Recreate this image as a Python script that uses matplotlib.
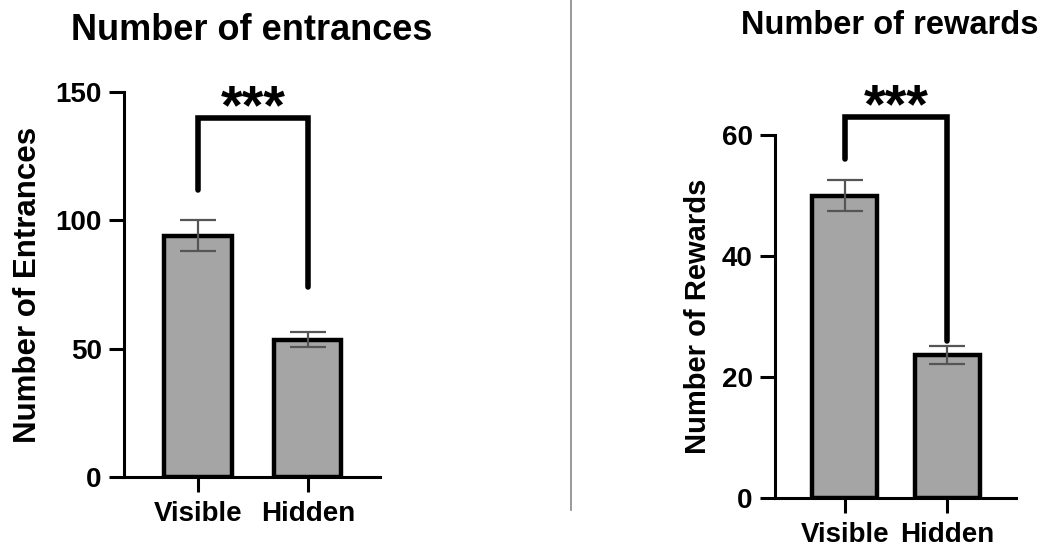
import matplotlib.pyplot as plt
from matplotlib.lines import Line2D

plt.rcParams['font.family'] = ['Liberation Sans', 'DejaVu Sans']
plt.rcParams['font.weight'] = 'bold'

groups = ["Visible", "Hidden"]

entr_mean = [94, 53.5]
entr_err = [6, 3]
rew_mean = [50, 23.6]
rew_err = [2.5, 1.5]

# bracket: [left leg bottom, top, right leg bottom]
entr_bracket = [112, 140, 74]
rew_bracket = [56, 63, 26]


def panel(ax, means, errs, ymax, yticks, ylabel, bracket, xlim, width, label_x, label_size):
    x = list(range(len(groups)))
    ax.bar(x, means, width=width, color="#a5a5a5", edgecolor="black", linewidth=3.2, zorder=2)
    ax.errorbar(x, means, yerr=errs, fmt="none", ecolor="#555555",
                elinewidth=1.6, capsize=13, capthick=1.6, zorder=3)
    ax.set_xlim(*xlim)
    ax.set_ylim(0, ymax)
    ax.set_yticks(yticks)
    ax.set_xticks(x)
    ax.set_xticklabels(groups, fontsize=20, fontweight="bold")
    for lab in ax.get_yticklabels():
        lab.set_fontsize(20)
        lab.set_fontweight("bold")
    ax.spines["top"].set_visible(False)
    ax.spines["right"].set_visible(False)
    ax.spines["left"].set_linewidth(2.2)
    ax.spines["bottom"].set_linewidth(2.2)
    ax.tick_params(axis="both", length=11, width=2.2)
    ax.tick_params(axis="y", pad=5)
    ax.tick_params(axis="x", pad=6)
    ax.set_ylabel(ylabel, fontsize=label_size, fontweight="bold")
    ax.yaxis.set_label_coords(label_x, 0.5)
    # significance bracket
    ax.plot([x[0], x[0], x[1], x[1]], [bracket[0], bracket[1], bracket[1], bracket[2]],
            color="black", linewidth=4, solid_capstyle="round",
            solid_joinstyle="miter", clip_on=False, zorder=4)
    ax.annotate("***", xy=((x[0] + x[1]) / 2, bracket[1]), xytext=(0, -4),
                textcoords="offset points", ha="center", va="baseline",
                fontsize=40, fontweight="bold", annotation_clip=False)


fig = plt.figure(figsize=(10.56, 5.48), dpi=100)

ax1 = fig.add_axes([0.1174, 0.1296, 0.2424, 0.7025])
panel(ax1, entr_mean, entr_err, 150, [0, 50, 100, 150], "Number of Entrances",
      entr_bracket, (-0.673, 1.655), 0.61, -0.316, 22.5)

ax2 = fig.add_axes([0.7339, 0.0912, 0.2282, 0.6624])
panel(ax2, rew_mean, rew_err, 60, [0, 20, 40, 60], "Number of Rewards",
      rew_bracket, (-0.68, 1.67), 0.63, -0.261, 21)

fig.text(252 / 1056, 1 - 30 / 548, "Number of entrances", ha="center", va="center",
         fontsize=26, fontweight="bold")
fig.text(890 / 1056, 1 - 25 / 548, "Number of rewards", ha="center", va="center",
         fontsize=23.5, fontweight="bold")

# divider between panels
fig.add_artist(Line2D([571 / 1056, 571 / 1056], [1, 1 - 510 / 548],
                      color="#888888", linewidth=1.2))

fig.savefig("out.png", dpi=100)
